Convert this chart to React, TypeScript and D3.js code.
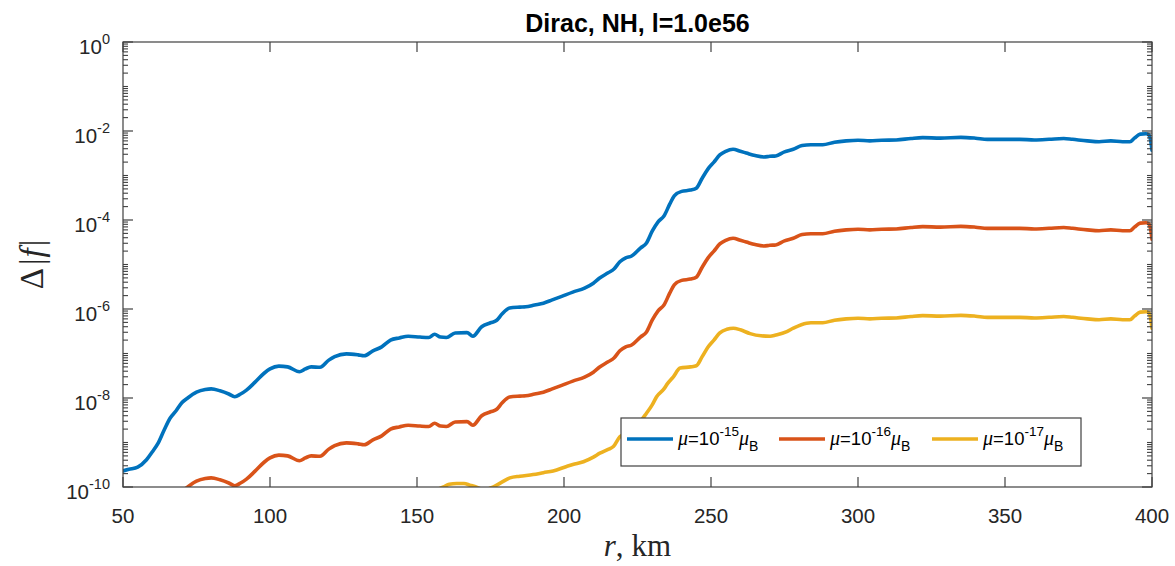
import React from "react";
import * as d3 from "d3";

// ---- data ----
const radius = [50,52,55,58,60,62,64,66,68,70,72,75,78,80,83,86,88,90,92,95,98,100,103,106,110,112,114,117,120,122,126,130,132,135,138,141,144,147,151,154,156,158,160,163,167,169,172,175,177,179,181.5,185,187,190,193,196,199,203,207,210,212,215,217,219,221,223,226,228,230,232,234,236,237.5,240,243,245,247,249,251,253,255,257.5,260,262,265,268,270,272,275,278,281,284,288,292,296,300,304,308,313,318,322,328,335,340,344,350,355,360,365,370,373,378,382,386,390,392.5,394,396,398,399,399.5,400];

const mu15 = [2.3e-10,2.5e-10,2.8e-10,4.1e-10,6.2e-10,9.8e-10,1.9e-9,3.5e-9,5.1e-9,7.8e-9,1.0e-8,1.35e-8,1.55e-8,1.6e-8,1.45e-8,1.23e-8,1.07e-8,1.23e-8,1.5e-8,2.3e-8,3.6e-8,4.5e-8,5.2e-8,5.0e-8,3.9e-8,4.5e-8,5.0e-8,4.9e-8,7.1e-8,8.5e-8,9.8e-8,9.3e-8,8.9e-8,1.15e-7,1.41e-7,2.0e-7,2.24e-7,2.45e-7,2.34e-7,2.29e-7,2.7e-7,2.34e-7,2.29e-7,2.9e-7,2.95e-7,2.45e-7,4.0e-7,4.9e-7,5.5e-7,7.8e-7,1.05e-6,1.1e-6,1.12e-6,1.23e-6,1.35e-6,1.6e-6,1.9e-6,2.4e-6,2.95e-6,3.8e-6,4.9e-6,6.5e-6,7.9e-6,1.15e-5,1.41e-5,1.55e-5,2.34e-5,3.0e-5,5.6e-5,9.1e-5,1.23e-4,2.3e-4,3.5e-4,4.4e-4,4.7e-4,5.2e-4,8.7e-4,1.41e-3,2.0e-3,2.9e-3,3.5e-3,3.9e-3,3.5e-3,3.2e-3,2.8e-3,2.6e-3,2.7e-3,2.75e-3,3.4e-3,3.9e-3,4.7e-3,4.9e-3,4.9e-3,5.6e-3,6.0e-3,6.2e-3,6.0e-3,6.2e-3,6.3e-3,6.8e-3,7.1e-3,6.9e-3,7.2e-3,6.9e-3,6.5e-3,6.5e-3,6.5e-3,6.3e-3,6.5e-3,6.8e-3,6.5e-3,6.0e-3,5.75e-3,6.0e-3,5.75e-3,5.75e-3,6.9e-3,8.5e-3,8.7e-3,8.1e-3,6.3e-3,3.7e-3];

const mu16 = [2.3e-12,2.5e-12,2.8e-12,4.1e-12,6.2e-12,9.8e-12,1.9e-11,3.5e-11,5.1e-11,7.8e-11,1.0e-10,1.35e-10,1.55e-10,1.6e-10,1.45e-10,1.23e-10,1.07e-10,1.23e-10,1.5e-10,2.3e-10,3.6e-10,4.5e-10,5.2e-10,5.0e-10,3.9e-10,4.5e-10,5.0e-10,4.9e-10,7.1e-10,8.5e-10,9.8e-10,9.3e-10,8.9e-10,1.15e-9,1.41e-9,2.0e-9,2.24e-9,2.45e-9,2.34e-9,2.29e-9,2.7e-9,2.34e-9,2.29e-9,2.9e-9,2.95e-9,2.45e-9,4.0e-9,4.9e-9,5.5e-9,7.8e-9,1.05e-8,1.1e-8,1.12e-8,1.23e-8,1.35e-8,1.6e-8,1.9e-8,2.4e-8,2.95e-8,3.8e-8,4.9e-8,6.5e-8,7.9e-8,1.15e-7,1.41e-7,1.55e-7,2.34e-7,3.0e-7,5.6e-7,9.1e-7,1.23e-6,2.3e-6,3.5e-6,4.4e-6,4.7e-6,5.2e-6,8.7e-6,1.41e-5,2.0e-5,2.9e-5,3.5e-5,3.9e-5,3.5e-5,3.2e-5,2.8e-5,2.6e-5,2.7e-5,2.75e-5,3.4e-5,3.9e-5,4.7e-5,4.9e-5,4.9e-5,5.6e-5,6.0e-5,6.2e-5,6.0e-5,6.2e-5,6.3e-5,6.8e-5,7.1e-5,6.9e-5,7.2e-5,6.9e-5,6.5e-5,6.5e-5,6.5e-5,6.3e-5,6.5e-5,6.8e-5,6.5e-5,6.0e-5,5.75e-5,6.0e-5,5.75e-5,5.75e-5,6.9e-5,8.5e-5,8.7e-5,8.1e-5,6.3e-5,3.7e-5];

const radius17 = [155,159,161,163.5,166,168,170.5,173,175,176.5,179,181.6,185,189.5,193,196.3,200.9,203,206.6,210,212.2,215,216.8,219,221,223.6,226,228.1,230,231.5,234,235.2,237.2,239.5,243,245,247,249,251,253,255.4,257.6,260,263.3,267,270.1,272,275.8,278,282.5,284,288,292,296,300,304,308,313,318,322,328,335,340,344,350,355,360,365,370,373,378,382,386,390,392.5,394,396,398,399,399.5,400];

const mu17 = [8.0e-11,1.0e-10,1.15e-10,1.2e-10,1.2e-10,1.1e-10,9.8e-11,8.5e-11,9.5e-11,1.05e-10,1.3e-10,1.6e-10,1.75e-10,1.9e-10,2.1e-10,2.3e-10,2.9e-10,3.2e-10,3.7e-10,4.7e-10,5.75e-10,7.0e-10,8.1e-10,1.35e-9,1.6e-9,2.3e-9,3.0e-9,4.6e-9,7.0e-9,1.07e-8,1.6e-8,2.1e-8,3.0e-8,4.7e-8,5.0e-8,5.3e-8,8.5e-8,1.4e-7,2.0e-7,2.9e-7,3.5e-7,3.7e-7,3.4e-7,2.8e-7,2.5e-7,2.45e-7,2.6e-7,3.1e-7,3.7e-7,4.8e-7,4.9e-7,4.9e-7,5.6e-7,6.0e-7,6.2e-7,6.0e-7,6.2e-7,6.3e-7,6.8e-7,7.1e-7,6.9e-7,7.2e-7,6.9e-7,6.5e-7,6.5e-7,6.5e-7,6.3e-7,6.5e-7,6.8e-7,6.5e-7,6.0e-7,5.75e-7,6.0e-7,5.75e-7,5.75e-7,6.9e-7,8.5e-7,8.7e-7,8.1e-7,6.3e-7,3.7e-7];

const xTicks = [50, 100, 150, 200, 250, 300, 350, 400];
const yTickExps = [0, -2, -4, -6, -8, -10];
const seriesNames = ["-15", "-16", "-17"];
const seriesColors = ["#0072BD", "#D95319", "#EDB120"];
const title = "Dirac, NH, l=1.0e56";

// ---- layout ----
const W = 1175, H = 566;
const L = 123, R = 1152, T = 42, B = 487;
const AX = "#404040";
const SANS = "'Liberation Sans', Arial, Helvetica, sans-serif";
const SERIF = "'Liberation Serif', 'Times New Roman', serif";

export default function App() {
  const x = d3.scaleLinear().domain([50, 400]).range([L, R]);
  const y = d3.scaleLog().domain([1e-10, 1]).range([B, T]);
  const line = d3.line<[number, number]>()
    .x(d => x(d[0]))
    .y(d => y(d[1]))
    .curve(d3.curveMonotoneX);

  const series = [
    radius.map((r, i) => [r, mu15[i]] as [number, number]),
    radius.map((r, i) => [r, mu16[i]] as [number, number]),
    radius17.map((r, i) => [r, mu17[i]] as [number, number]),
  ];

  // minor ticks on log axis
  const minor: number[] = [];
  for (let e = -10; e < 0; e++) {
    for (let m = 1; m <= 9; m++) {
      const v = m * Math.pow(10, e);
      if (m === 1 && e % 2 === 0) continue;
      minor.push(v);
    }
  }

  const legX = 621, legY = 418, legW = 460, legH = 48;
  const itemStarts = [627, 779, 932];

  return (
    <svg width={W} height={H} style={{ position: "absolute", left: 0, top: 0, background: "#fff" }}>
      <defs>
        <clipPath id="plotclip">
          <rect x={L} y={T} width={R - L} height={B - T} />
        </clipPath>
      </defs>
      <rect x={0} y={0} width={W} height={H} fill="#fff" />
      <text x={(L + R) / 2} y={32} textAnchor="middle" fontFamily={SANS} fontWeight="bold" fontSize={25} fill="#000">{title}</text>

      {/* data lines */}
      <g clipPath="url(#plotclip)">
        {series.map((s, i) => (
          <path key={i} d={line(s) || ""} fill="none" stroke={seriesColors[i]} strokeWidth={3.6} strokeLinejoin="round" strokeLinecap="round" />
        ))}
      </g>

      {/* axes box */}
      <rect x={L} y={T} width={R - L} height={B - T} fill="none" stroke={AX} strokeWidth={1.2} />

      {/* x ticks */}
      {xTicks.map(t => (
        <g key={t}>
          <line x1={x(t)} x2={x(t)} y1={B} y2={B - 10} stroke={AX} strokeWidth={1.2} />
          <line x1={x(t)} x2={x(t)} y1={T} y2={T + 10} stroke={AX} strokeWidth={1.2} />
          <text x={x(t)} y={523} textAnchor="middle" fontFamily={SANS} fontSize={20.5} fill="#262626">{t}</text>
        </g>
      ))}

      {/* y ticks */}
      {yTickExps.map(e => {
        const yy = y(Math.pow(10, e));
        return (
          <g key={e}>
            <line x1={L} x2={L + 10} y1={yy} y2={yy} stroke={AX} strokeWidth={1.2} />
            <line x1={R} x2={R - 10} y1={yy} y2={yy} stroke={AX} strokeWidth={1.2} />
            <text x={110} y={yy + 12} textAnchor="end" fontFamily={SANS} fontSize={20.5} fill="#262626">
              10<tspan dy={-10} fontSize={14.5}>{e}</tspan>
            </text>
          </g>
        );
      })}
      {minor.map((v, i) => {
        const yy = y(v);
        return (
          <g key={"m" + i}>
            <line x1={L} x2={L + 5} y1={yy} y2={yy} stroke={AX} strokeWidth={1.1} />
            <line x1={R} x2={R - 5} y1={yy} y2={yy} stroke={AX} strokeWidth={1.1} />
          </g>
        );
      })}

      {/* axis labels */}
      <text transform={`translate(43, ${(T + B) / 2}) rotate(-90)`} textAnchor="middle" fontFamily={SERIF} fontSize={33} fill="#262626">
        Δ<tspan dx={3}>|</tspan><tspan fontStyle="italic" dx={1}>f</tspan><tspan dx={2}>|</tspan>
      </text>
      <text x={(L + R) / 2} y={556} textAnchor="middle" fontFamily={SERIF} fontSize={31} fill="#262626">
        <tspan fontStyle="italic">r</tspan>,<tspan dx={8}>km</tspan>
      </text>

      {/* legend */}
      <rect x={legX} y={legY} width={legW} height={legH} fill="#fff" stroke={AX} strokeWidth={1.2} />
      {seriesNames.map((n, i) => {
        const sx = itemStarts[i];
        const ly = 439;
        return (
          <g key={n}>
            <line x1={sx} x2={sx + 46} y1={ly} y2={ly} stroke={seriesColors[i]} strokeWidth={3.6} />
            <text x={sx + 51} y={445} fontFamily={SANS} fontSize={18.5} fill="#000">
              <tspan fontFamily={SERIF} fontStyle="italic" fontSize={20}>μ</tspan>=10<tspan dy={-9} fontSize={13.5}>{n}</tspan><tspan dy={9} fontFamily={SERIF} fontStyle="italic" fontSize={20}>μ</tspan><tspan dy={6} fontSize={14}>B</tspan>
            </text>
          </g>
        );
      })}
    </svg>
  );
}
